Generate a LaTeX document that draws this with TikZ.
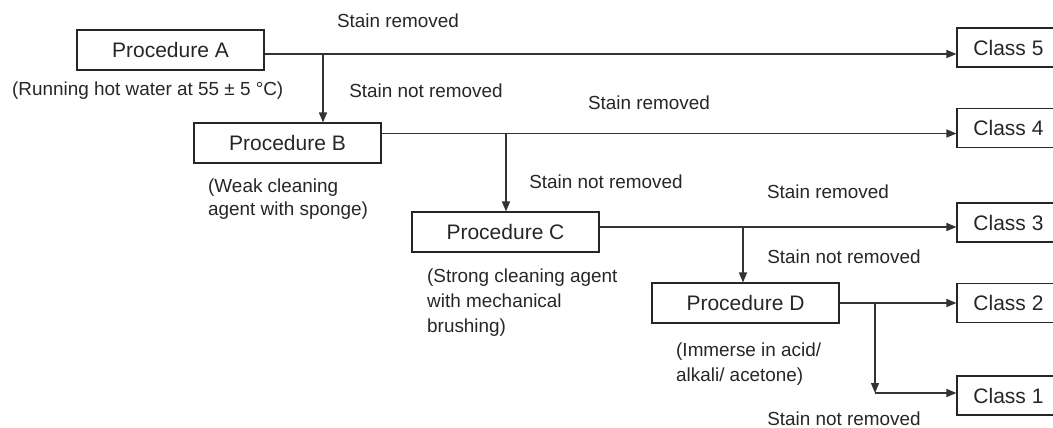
\documentclass[tikz,border=0pt]{standalone}
\usepackage{fontspec}
\setmainfont{Liberation Sans}
\usetikzlibrary{arrows.meta}
\begin{document}
\begin{tikzpicture}[x=1pt,y=-1pt,
  lc/.style={draw=black!80,line width=1.4pt},
  arr/.style={lc,-{Triangle[length=10pt,width=8pt]}},
  procbox/.style={draw=black!85,line width=1.1pt,minimum width=187pt,minimum height=40pt,inner sep=0pt,font=\fontsize{21}{24}\selectfont,text=black!85},
  classbox/.style={draw=black!85,line width=1.1pt,minimum width=103pt,minimum height=39pt,inner sep=0pt,font=\fontsize{21}{24}\selectfont,text=black!85},
  lbl/.style={inner sep=0pt,font=\fontsize{18.9}{25}\selectfont,text=black!85},
  note/.style={inner sep=0pt,align=left,anchor=north west,font=\fontsize{18.9}{25}\selectfont,text=black!85}]
\useasboundingbox (0,0) rectangle (1053,428);
\clip (0,0) rectangle (1053,428);
% procedure boxes
\node[procbox] (A) at (170.5,50) {Procedure A};
\node[procbox] (B) at (287.5,143) {Procedure B};
\node[procbox] (C) at (505.5,232) {Procedure C};
\node[procbox] (D) at (745.5,303) {Procedure D};
% class boxes
\node[classbox] (c5) at (1008.5,47.5) {Class 5};
\node[classbox] (c4) at (1008.5,128) {Class 4};
\node[classbox] (c3) at (1008.5,222.5) {Class 3};
\node[classbox] (c2) at (1008.5,303) {Class 2};
\node[classbox] (c1) at (1008.5,395.5) {Class 1};
% junction coordinates
\coordinate (ja) at (323,54);
\coordinate (jb) at (506,133.5);
\coordinate (jc) at (743,227);
\coordinate (jd) at (875,303);
\coordinate (k) at (875,393);
% connectors
\draw[arr] ([yshift=-4pt]A.east) -- ([yshift=-4pt]A.east -| c5.west);
\draw[arr] (ja) -- (ja |- B.north);
\draw[arr] ([yshift=9.5pt]B.east) -- ([yshift=9.5pt]B.east -| c4.west);
\draw[arr] (jb) -- (jb |- C.north);
\draw[arr] ([yshift=5pt]C.east) -- ([yshift=5pt]C.east -| c3.west);
\draw[arr] (jc) -- (jc |- D.north);
\draw[arr] (D.east) -- (c2.west);
\draw[arr] (jd) -- (k);
\draw[arr] (k) -- (k -| c1.west);
% labels
\node[lbl] (l1) at (398,21) {Stain removed};
\node[lbl] (l2) at (426,91) {Stain not removed};
\node[lbl] (l3) at (649,103) {Stain removed};
\node[lbl] (l4) at (606,182) {Stain not removed};
\node[lbl] (l5) at (828,192) {Stain removed};
\node[lbl] (l6) at (844,257) {Stain not removed};
\node[lbl] (l7) at (844,418.5) {Stain not removed};
% notes
\node[note] (nA) at (12,82) {(Running hot water at 55 ± 5 °C)};
\node[note,font=\fontsize{18.9}{23}\selectfont] (nB) at (208,179) {(Weak cleaning\\agent with sponge)};
\node[note] (nC) at (427,269) {(Strong cleaning agent\\with mechanical\\brushing)};
\node[note] (nD) at (676,343) {(Immerse in acid/\\alkali/ acetone)};
\end{tikzpicture}
\end{document}
